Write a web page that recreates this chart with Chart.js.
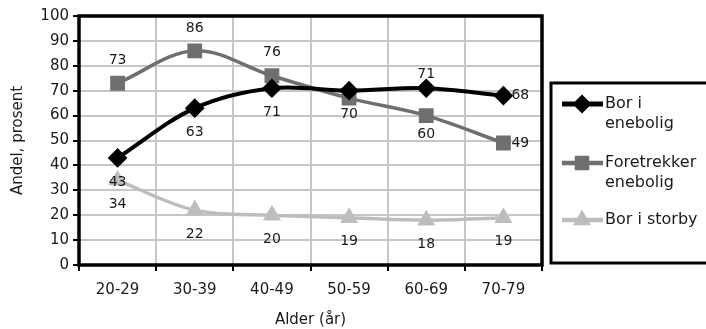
<!DOCTYPE html>
<html>
<head>
<meta charset="utf-8">
<script src="https://cdn.jsdelivr.net/npm/chart.js@4/dist/chart.umd.min.js"></script>
<style>
  html, body { margin: 0; padding: 0; background: #fff; }
  #wrap { width: 706px; height: 329px; }
</style>
</head>
<body>
<div id="wrap"><canvas id="myChart"></canvas></div>
<script>
// data
var alder = ['20-29', '30-39', '40-49', '50-59', '60-69', '70-79'];
var bor_enebolig = [43, 63, 71, 70, 71, 68];
var foretrekker_enebolig = [73, 86, 76, 67, 60, 49];
var bor_storby = [34, 22, 20, 19, 18, 19];
var y_ticks = [0, 10, 20, 30, 40, 50, 60, 70, 80, 90, 100];

// hvor verdiene står (null = ingen etikett)
var lbl_pos = [
    ['below', 'below', 'below', 'below', 'above2', 'right'],
    ['above', 'above', 'above', null, 'below2', 'right'],
    ['below', 'below', 'below', 'below', 'below', 'below']
];

var FONT = '"DejaVu Sans", "Liberation Sans", Arial, sans-serif';

// verdi-etiketter
const labelPlugin = {
    id: 'labels',
    afterDatasetsDraw(chart) {
        const ctx = chart.ctx;
        ctx.save();
        ctx.font = '14px ' + FONT;
        ctx.fillStyle = '#1a1a1a';
        ctx.textBaseline = 'middle';
        chart.data.datasets.forEach(function (ds, i) {
            const meta = chart.getDatasetMeta(i);
            meta.data.forEach(function (pt, j) {
                const pos = lbl_pos[i][j];
                if (!pos) return;
                let x = pt.x, y = pt.y;
                ctx.textAlign = 'center';
                if (pos == 'above') y -= 23;
                if (pos == 'above2') y -= 14;
                if (pos == 'below') y += 24;
                if (pos == 'below2') y += 19;
                if (pos == 'right') { x += 8; ctx.textAlign = 'left'; }
                ctx.fillText(ds.data[j], x, y);
            });
        });
        ctx.restore();
    }
};

// ramme rundt plottet
const framePlugin = {
    id: 'frame',
    beforeDatasetsDraw(chart) {
        const a = chart.chartArea, ctx = chart.ctx;
        ctx.save();
        ctx.strokeStyle = '#000';
        ctx.lineWidth = 3.5;
        ctx.strokeRect(a.left, a.top, a.right - a.left, a.bottom - a.top);
        ctx.restore();
    }
};

// forklaring i boks til høyre
const legendPlugin = {
    id: 'boxLegend',
    afterDraw(chart) {
        const ctx = chart.ctx;
        const rows = [
            { y: 104, text: ['Bor i', 'enebolig'] },
            { y: 163, text: ['Foretrekker', 'enebolig'] },
            { y: 220, text: ['Bor i storby'] }
        ];
        ctx.save();
        ctx.strokeStyle = '#000';
        ctx.lineWidth = 3;
        ctx.strokeRect(551, 83, 170, 180);
        ctx.font = '16px ' + FONT;
        ctx.textBaseline = 'middle';
        ctx.textAlign = 'left';
        chart.data.datasets.forEach(function (ds, i) {
            const r = rows[i];
            ctx.strokeStyle = ds.borderColor;
            ctx.lineWidth = ds.borderWidth + 1;
            ctx.beginPath();
            ctx.moveTo(562, r.y);
            ctx.lineTo(603, r.y);
            ctx.stroke();
            Chart.helpers.drawPoint(ctx, {
                pointStyle: ds.pointStyle,
                radius: ds.pointRadius - 1,
                borderWidth: 1
            }, 582, r.y);
            ctx.fillStyle = ds.backgroundColor;
            ctx.fill();
            ctx.fillStyle = '#1a1a1a';
            r.text.forEach(function (t, k) {
                ctx.fillText(t, 605, r.y + k * 20);
            });
        });
        ctx.restore();
    }
};

const ctx = document.getElementById('myChart');
const mychart = new Chart(ctx, {
    type: 'line',
    data: {
        labels: alder,
        datasets: [{
            label: 'Bor i enebolig',
            data: bor_enebolig,
            borderColor: '#000',
            backgroundColor: '#000',
            borderWidth: 4,
            pointStyle: 'rectRot',
            pointRadius: 7,
            tension: 0.35
        }, {
            label: 'Foretrekker enebolig',
            data: foretrekker_enebolig,
            borderColor: '#6f6f6f',
            backgroundColor: '#6f6f6f',
            borderWidth: 3.5,
            pointStyle: 'rect',
            pointRadius: 8,
            tension: 0.35
        }, {
            label: 'Bor i storby',
            data: bor_storby,
            borderColor: '#bdbdbd',
            backgroundColor: '#bdbdbd',
            borderWidth: 3.5,
            pointStyle: 'triangle',
            pointRadius: 7,
            tension: 0.35
        }]
    },
    options: {
        responsive: true,
        maintainAspectRatio: false,
        animation: false,
        layout: { padding: { left: 0, top: 16, right: 164, bottom: 0 } },
        plugins: {
            legend: { display: false },
            tooltip: { enabled: false }
        },
        scales: {
            x: {
                offset: true,
                grid: {
                    offset: true,
                    color: '#c6c6c6',
                    lineWidth: 2,
                    tickLength: 6,
                    tickColor: '#000',
                    tickWidth: 2
                },
                border: { display: false },
                ticks: { color: '#1a1a1a', font: { family: FONT, size: 15 }, padding: 10 },
                title: { display: true, text: 'Alder (år)', color: '#1a1a1a', font: { family: FONT, size: 15 }, padding: { top: 2, bottom: 0 } },
                afterFit: function (s) { s.height = 64; }
            },
            y: {
                min: 0,
                max: 100,
                afterBuildTicks: function (s) { s.ticks = y_ticks.map(function (v) { return { value: v }; }); },
                grid: {
                    color: '#c6c6c6',
                    lineWidth: 2,
                    tickLength: 6,
                    tickColor: '#000',
                    tickWidth: 2
                },
                border: { display: false },
                ticks: { color: '#1a1a1a', font: { family: FONT, size: 15 }, padding: 4 },
                title: { display: true, text: 'Andel, prosent', color: '#1a1a1a', font: { family: FONT, size: 15 }, padding: { top: 9, bottom: 2 } },
                afterFit: function (s) { s.width = 79; }
            }
        }
    },
    plugins: [framePlugin, labelPlugin, legendPlugin]
});
mychart.update();
</script>
</body>
</html>
